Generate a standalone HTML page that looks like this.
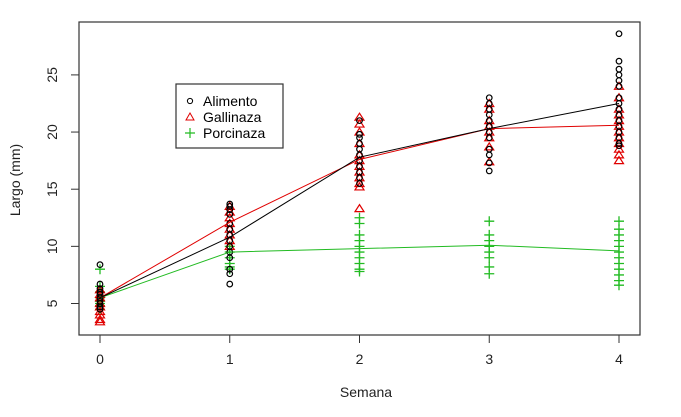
<!DOCTYPE html>
<html><head><meta charset="utf-8"><style>
body{margin:0;background:#fff;}
svg{display:block;font-family:"Liberation Sans",Arial,sans-serif;}
</style></head><body>
<svg id="chart" width="681" height="417">
<rect x="79" y="22" width="561" height="313" fill="none" stroke="#333" stroke-width="1.2"/>
<g id="axes"></g>
<g id="marks"></g>
<text x="366" y="397" font-size="14" text-anchor="middle" fill="#222">Semana</text>
<text transform="translate(20,180) rotate(-90)" font-size="14" text-anchor="middle" fill="#222">Largo (mm)</text>
<g>
<rect x="176" y="84" width="107" height="64" fill="#fff" stroke="#333" stroke-width="1.2"/>
<circle cx="190" cy="101" r="2.6" fill="none" stroke="#000"/>
<text x="203" y="106" font-size="14" fill="#000">Alimento</text>
<polygon points="190,113 194,120 186,120" fill="none" stroke="#e00000"/>
<text x="203" y="122" font-size="14" fill="#000">Gallinaza</text>
<path d="M185,133h10M190,128v10" stroke="#22bb22" stroke-width="1.2"/>
<text x="203" y="138" font-size="14" fill="#000">Porcinaza</text>
</g>
</svg>
<script>
const weeks=[0,1,2,3,4];
const yTicks=[5,10,15,20,25];
const aliPts=[[8.4,6.7,6.3,6.0,5.8,5.5,5.2,5.0,4.7,4.5],[13.7,13.5,13.2,12.8,12,11.5,11,10.5,10,9.5,9,8,7.6,6.7],[21,19.8,19.5,19,18.5,18,17.5,17,16.5,16,15.5],[23,22.5,22,21.5,21,20.5,20,19.5,18.5,18,17.3,16.6],[28.6,26.2,25.5,25,24.5,24,23,22.5,22,21.5,21,20.5,20,19.5,19,18.8]];
const galPts=[[6.2,5.8,5.5,5.0,4.7,4.3,4.0,3.6,3.4],[13.5,13,12.5,12,11.5,11,10.5,10],[21.3,20.7,20,19,18,17.5,17,16.5,16,15.5,15.2,13.3],[22.5,22,21,20.5,20,19.5,18.7,17.4],[24,23,22,21.5,21,20.5,20,19.5,19,18.5,18,17.5]];
const porPts=[[8.0,6.5,6.0,5.5,5.2,5.0,4.8,4.5],[10,9.5,9,8.5,8.2,8],[12.5,12,11,10.5,10,9.5,9,8.5,8,7.8],[12.2,11,10.5,10,9.5,9,8.2,7.6],[12.2,11.5,11,10.5,10,9.5,9,8.5,8,7.5,7,6.6]];
const aliMean=[5.5,10.8,17.8,20.3,22.5];
const galMean=[5.5,12.1,17.6,20.3,20.6];
const porMean=[5.5,9.5,9.8,10.1,9.6];
const NS="http://www.w3.org/2000/svg";
function xS(w){return 100+w*129.75;}
function yS(v){return 303.5-(v-5)*11.43;}
function mk(t,a,p){const e=document.createElementNS(NS,t);for(const k in a)e.setAttribute(k,a[k]);p.appendChild(e);return e;}
const ax=document.getElementById('axes'),mg=document.getElementById('marks');
weeks.forEach(w=>{
 const t=mk('line',{x1:xS(w),x2:xS(w),y1:335,y2:343,stroke:'#333'},ax);
 
 
 const l=mk('text',{x:xS(w),y:364,'font-size':14,'text-anchor':'middle',fill:'#222'},ax);l.textContent=w;
 
 
});
yTicks.forEach(v=>{
 const t=mk('line',{x1:71,x2:79,y1:yS(v),y2:yS(v),stroke:'#333'},ax);
 
 
 const l=mk('text',{transform:`translate(57,${yS(v)}) rotate(-90)`,'font-size':14,'text-anchor':'middle',fill:'#222'},ax);l.textContent=v;
 
 
});
function line(m,c,n){const p=mk('polyline',{points:m.map((v,i)=>xS(weeks[i])+','+yS(v)).join(' '),fill:'none',stroke:c,'stroke-width':1},mg);
 
 }
porPts.forEach((a,i)=>a.forEach(v=>{const x=xS(weeks[i]),y=yS(v);
 const p=mk('path',{d:`M${x-5},${y}h10M${x},${y-5}v10`,stroke:'#22bb22','stroke-width':1.3},mg);
 
 }));
galPts.forEach((a,i)=>a.forEach(v=>{const x=xS(weeks[i]),y=yS(v);
 const p=mk('polygon',{points:`${x},${y-4} ${x+4.5},${y+3} ${x-4.5},${y+3}`,fill:'none',stroke:'#e00000','stroke-width':1.2},mg);
 
 }));
aliPts.forEach((a,i)=>a.forEach(v=>{
 const p=mk('circle',{cx:xS(weeks[i]),cy:yS(v),r:2.8,fill:'none',stroke:'#000','stroke-width':1.2},mg);
 
 }));
line(porMean,'#22bb22','porcinaza-line');
line(galMean,'#e00000','gallinaza-line');
line(aliMean,'#000','alimento-line');
</script>
</body></html>
